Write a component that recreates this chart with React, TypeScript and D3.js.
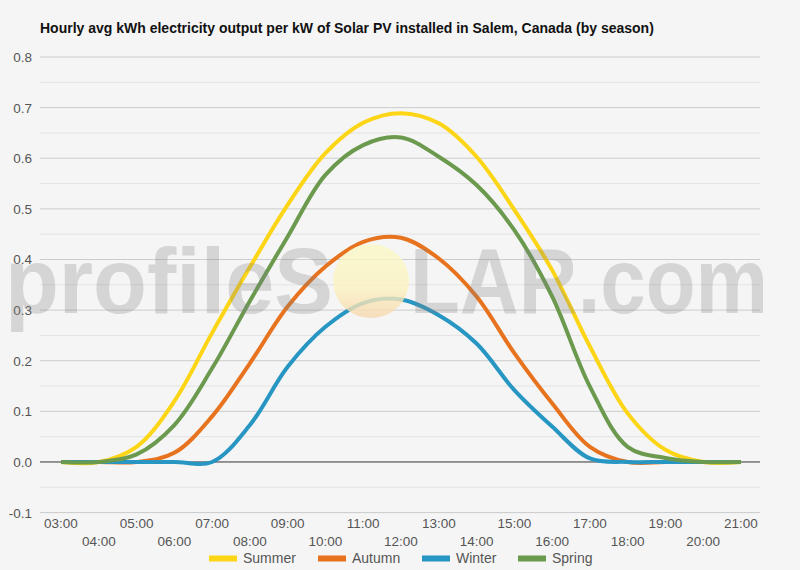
import React, { useEffect, useRef } from 'react';
import * as d3 from 'd3';

const hours = [3, 4, 5, 6, 7, 8, 9, 10, 11, 12, 13, 14, 15, 16, 17, 18, 19, 20, 21];
const hourLabels = hours.map((h) => `${String(h).padStart(2, '0')}:00`);

const summer = [0, 0, 0.03, 0.12, 0.255, 0.385, 0.508, 0.61, 0.67, 0.689, 0.669, 0.603, 0.498, 0.379, 0.228, 0.096, 0.024, 0, 0];
const autumn = [0, 0, 0, 0.018, 0.09, 0.195, 0.307, 0.386, 0.435, 0.443, 0.402, 0.327, 0.215, 0.116, 0.03, 0, 0, 0, 0];
const winter = [0, 0, 0, 0, 0, 0.073, 0.188, 0.267, 0.314, 0.321, 0.29, 0.234, 0.142, 0.07, 0.007, 0, 0, 0, 0];
const spring = [0, 0, 0.015, 0.073, 0.185, 0.318, 0.445, 0.567, 0.626, 0.641, 0.603, 0.547, 0.458, 0.327, 0.149, 0.03, 0.008, 0, 0];

const seriesNames = ['Summer', 'Autumn', 'Winter', 'Spring'];
const seriesValues = [summer, autumn, winter, spring];
const seriesColors = ['#fcd516', '#e8731f', '#2796c3', '#6b9a4f'];

const yTicks = [-0.1, 0, 0.1, 0.2, 0.3, 0.4, 0.5, 0.6, 0.7, 0.8];

const title = 'Hourly avg kWh electricity output per kW of Solar PV installed in Salem, Canada (by season)';

export default function App() {
  const ref = useRef<SVGSVGElement>(null);

  useEffect(() => {
    document.body.style.margin = '0';
    const svg = d3.select(ref.current);
    svg.selectAll('*').remove();

    const left = 40;
    const right = 760;
    const font = 'Arial, "Liberation Sans", sans-serif';

    const x = d3.scaleLinear().domain([3, 21]).range([61, 741]);
    const y = d3.scaleLinear().domain([-0.1, 0.8]).range([512.6, 57]);

    svg.append('rect').attr('width', 800).attr('height', 570).attr('fill', '#f5f5f5');

    // title
    svg
      .append('text')
      .attr('x', left)
      .attr('y', 33)
      .attr('font-family', font)
      .attr('font-weight', 'bold')
      .attr('font-size', 14)
      .attr('fill', '#111')
      .text(title);

    // minor grid
    const minor = d3.range(-0.05, 0.8, 0.1);
    svg
      .selectAll('.minor')
      .data(minor)
      .enter()
      .append('line')
      .attr('x1', left)
      .attr('x2', right)
      .attr('y1', (d) => y(d))
      .attr('y2', (d) => y(d))
      .attr('stroke', '#e3e3e3')
      .attr('stroke-width', 1);

    svg
      .selectAll('.major')
      .data(yTicks)
      .enter()
      .append('line')
      .attr('x1', left)
      .attr('x2', right)
      .attr('y1', (d) => y(d))
      .attr('y2', (d) => y(d))
      .attr('stroke', (d) => (d === 0 ? '#333' : '#cccccc'))
      .attr('stroke-width', 1);

    svg
      .selectAll('.ylab')
      .data(yTicks)
      .enter()
      .append('text')
      .attr('x', 32)
      .attr('y', (d) => y(d) + 5)
      .attr('text-anchor', 'end')
      .attr('font-family', font)
      .attr('font-size', 13.5)
      .attr('fill', '#555')
      .text((d) => d.toFixed(1));

    svg
      .selectAll('.xlab')
      .data(hours)
      .enter()
      .append('text')
      .attr('x', (d) => x(d))
      .attr('y', (d, i) => (i % 2 === 0 ? 528 : 546))
      .attr('text-anchor', 'middle')
      .attr('font-family', font)
      .attr('font-size', 13.5)
      .attr('fill', '#555')
      .text((d, i) => hourLabels[i]);

    const line = d3
      .line<number>()
      .x((d, i) => x(hours[i]))
      .y((d) => y(d))
      .curve(d3.curveCatmullRom.alpha(0.5));

    seriesValues.forEach((vals, k) => {
      svg
        .append('path')
        .attr('d', line(vals))
        .attr('fill', 'none')
        .attr('stroke', seriesColors[k])
        .attr('stroke-width', 4)
        .attr('stroke-linejoin', 'round');
    });

    // watermark
    const defs = svg.append('defs');
    const grad = defs
      .append('linearGradient')
      .attr('id', 'sun')
      .attr('x1', 0)
      .attr('y1', 0)
      .attr('x2', 0)
      .attr('y2', 1);
    grad.append('stop').attr('offset', '0%').attr('stop-color', '#fbf9c6');
    grad.append('stop').attr('offset', '60%').attr('stop-color', '#fbf2c0');
    grad.append('stop').attr('offset', '100%').attr('stop-color', '#f7d6ac');

    svg
      .append('ellipse')
      .attr('cx', 371)
      .attr('cy', 281)
      .attr('rx', 38)
      .attr('ry', 37)
      .attr('fill', 'url(#sun)')
      .attr('opacity', 0.8);

    const wm = svg
      .append('g')
      .attr('font-family', font)
      .attr('font-weight', 'bold')
      .attr('font-size', 92)
      .attr('fill', '#808080')
      .attr('opacity', 0.27);
    wm.append('text')
      .attr('x', 5)
      .attr('y', 313)
      .attr('textLength', 328)
      .attr('lengthAdjust', 'spacingAndGlyphs')
      .text('profileS');
    wm.append('text')
      .attr('x', 410)
      .attr('y', 313)
      .attr('textLength', 358)
      .attr('lengthAdjust', 'spacingAndGlyphs')
      .text('LAR.com');

    // legend
    const legendX = [209, 318, 422, 518];
    seriesNames.forEach((name, k) => {
      svg
        .append('rect')
        .attr('x', legendX[k])
        .attr('y', 555.5)
        .attr('width', 28)
        .attr('height', 6)
        .attr('fill', seriesColors[k]);
      svg
        .append('text')
        .attr('x', legendX[k] + 34)
        .attr('y', 563)
        .attr('font-family', font)
        .attr('font-size', 14)
        .attr('fill', '#555')
        .text(name);
    });
  }, []);

  return (
    <svg
      ref={ref}
      width={800}
      height={570}
      style={{ display: 'block', position: 'absolute', left: 0, top: 0 }}
    />
  );
}
